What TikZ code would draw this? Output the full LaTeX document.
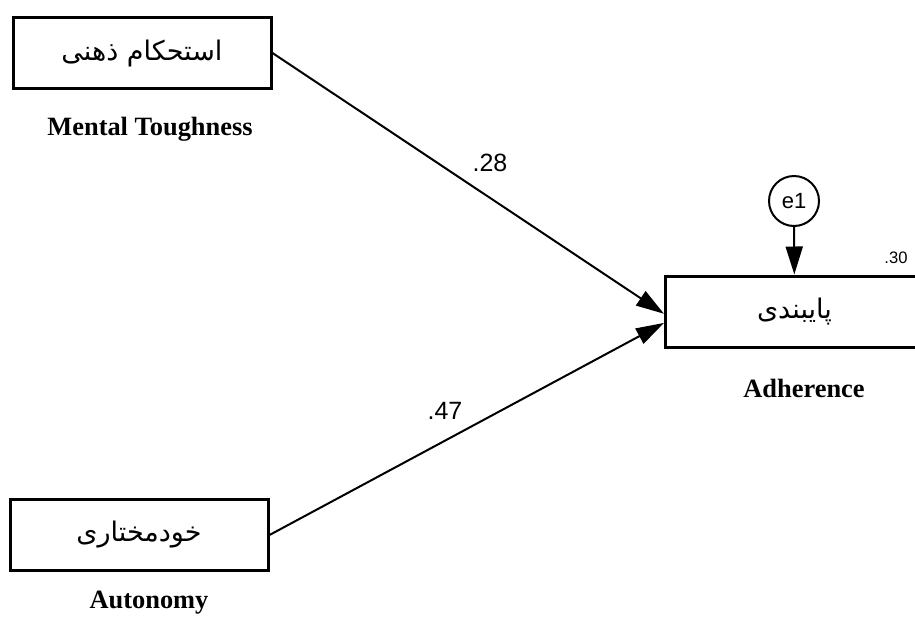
\documentclass[tikz,border=0pt]{standalone}
\usepackage{fontspec}
\setmainfont{Liberation Serif}
\setsansfont{Liberation Sans}
\newfontfamily\farsifont[Script=Arabic]{DejaVu Sans}
\TeXXeTstate=1
\usetikzlibrary{arrows.meta}

\def \boxwidth {129pt}
\def \boxheight {35.5pt}
\def \errsize {25pt}

\tikzset{
  varbox/.style={draw, line width=1.5pt, minimum width=\boxwidth, minimum height=\boxheight, inner sep=0pt, font=\farsifont\fontsize{13.5}{15}\selectfont},
  errnode/.style={draw, circle, line width=1pt, minimum size=\errsize, inner sep=0pt, font=\sffamily\fontsize{11}{13}\selectfont},
  varlabel/.style={font=\bfseries\fontsize{13.2}{15}\selectfont},
  coef/.style={font=\sffamily\fontsize{12.5}{14}\selectfont},
  regarrow/.style={line width=1pt, -{Triangle[length=14pt, width=8.5pt]}}
}

\begin{document}
\begin{tikzpicture}[x=0.5pt, y=-0.5pt]
\path[use as bounding box, clip] (0,0) rectangle (915,616);
% observed variables
\node[varbox] (tough) at (142,53) {\beginR استحکام ذهنی\endR};
\node[varbox] (auto) at (139,535) {\beginR خودمختاری\endR};
\node[varbox] (adh) at (794.5,311.5) {\beginR پایبندی\endR}; % right side runs off the page
\node[errnode] (e1) at (794,201) {e1};
% english names
\node[varlabel] (toughlbl) at (150,129) {Mental Toughness};
\node[varlabel] (autolbl) at (149,603) {Autonomy};
\node[varlabel] (adhlbl) at (804,388) {Adherence};
% paths
\draw[regarrow] (tough.east) -- (adh.181);
\draw[regarrow] (auto.east) -- (adh.185);
\draw[regarrow] (e1) -- (adh);
\node[coef] (c28) at (490,163) {.28};
\node[coef] (c47) at (445,411) {.47};
\node[coef, font=\sffamily\fontsize{8.3}{10}\selectfont] (r30) at (896,258) {.30};
\end{tikzpicture}
\end{document}
